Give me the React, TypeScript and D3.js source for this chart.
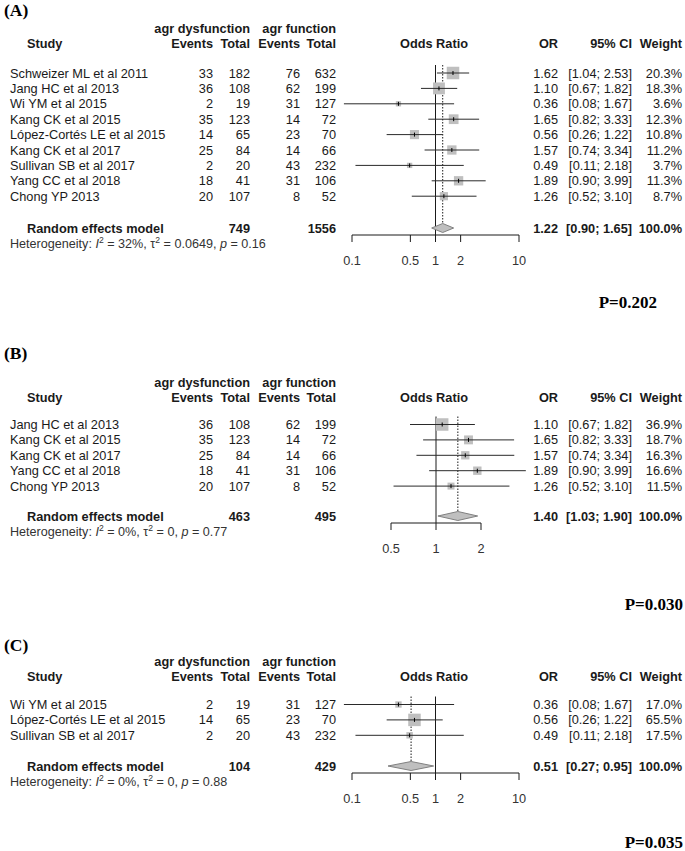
import * as d3 from "d3";

const SANS = "'Liberation Sans', Arial, sans-serif";
const SERIF = "'Liberation Serif', 'Times New Roman', serif";

// Panel A: all studies
const studiesA = [
  "Schweizer ML et al 2011",
  "Jang HC et al 2013",
  "Wi YM et al 2015",
  "Kang CK et al 2015",
  "López-Cortés LE et al 2015",
  "Kang CK et al 2017",
  "Sullivan SB et al 2017",
  "Yang CC et al 2018",
  "Chong YP 2013",
];
const dysEventsA = [33, 36, 2, 35, 14, 25, 2, 18, 20];
const dysTotalA = [182, 108, 19, 123, 65, 84, 20, 41, 107];
const funEventsA = [76, 62, 31, 14, 23, 14, 43, 31, 8];
const funTotalA = [632, 199, 127, 72, 70, 66, 232, 106, 52];
const orA = [1.62, 1.1, 0.36, 1.65, 0.56, 1.57, 0.49, 1.89, 1.26];
const lowerA = [1.04, 0.67, 0.08, 0.82, 0.26, 0.74, 0.11, 0.9, 0.52];
const upperA = [2.53, 1.82, 1.67, 3.33, 1.22, 3.34, 2.18, 3.99, 3.1];
const weightA = [20.3, 18.3, 3.6, 12.3, 10.8, 11.2, 3.7, 11.3, 8.7];
const pooledA = { or: 1.22, lo: 0.9, hi: 1.65, dysTotal: 749, funTotal: 1556 };
const hetA = { i2: "32%", tau2: "0.0649", p: "0.16" };
const ticksA = [0.1, 0.5, 1, 2, 10];

// Panel B
const studiesB = [
  "Jang HC et al 2013",
  "Kang CK et al 2015",
  "Kang CK et al 2017",
  "Yang CC et al 2018",
  "Chong YP 2013",
];
const dysEventsB = [36, 35, 25, 18, 20];
const dysTotalB = [108, 123, 84, 41, 107];
const funEventsB = [62, 14, 14, 31, 8];
const funTotalB = [199, 72, 66, 106, 52];
const orB = [1.1, 1.65, 1.57, 1.89, 1.26];
const lowerB = [0.67, 0.82, 0.74, 0.9, 0.52];
const upperB = [1.82, 3.33, 3.34, 3.99, 3.1];
const weightB = [36.9, 18.7, 16.3, 16.6, 11.5];
const pooledB = { or: 1.4, lo: 1.03, hi: 1.9, dysTotal: 463, funTotal: 495 };
const hetB = { i2: "0%", tau2: "0", p: "0.77" };
const ticksB = [0.5, 1, 2];

// Panel C
const studiesC = [
  "Wi YM et al 2015",
  "López-Cortés LE et al 2015",
  "Sullivan SB et al 2017",
];
const dysEventsC = [2, 14, 2];
const dysTotalC = [19, 65, 20];
const funEventsC = [31, 23, 43];
const funTotalC = [127, 70, 232];
const orC = [0.36, 0.56, 0.49];
const lowerC = [0.08, 0.26, 0.11];
const upperC = [1.67, 1.22, 2.18];
const weightC = [17.0, 65.5, 17.5];
const pooledC = { or: 0.51, lo: 0.27, hi: 0.95, dysTotal: 104, funTotal: 429 };
const hetC = { i2: "0%", tau2: "0", p: "0.88" };
const ticksC = [0.1, 0.5, 1, 2, 10];

const COL = {
  study: 10,
  studyHead: 27,
  evD: 213,
  totD: 250,
  evF: 300,
  totF: 336,
  orHead: 434,
  or: 558,
  ci: 632,
  wt: 682,
};

const ROW_H = 15.4;
const FS = 12.75;
const f2 = d3.format(".2f");
const f1 = d3.format(".1f");

type PanelProps = {
  letter: string;
  letterY: number;
  head1Y: number;
  head2Y: number;
  row0: number;
  axisY: number;
  pText: string;
  pY: number;
  pRight: number;
  domain: [number, number];
  range: [number, number];
  ticks: number[];
  studies: string[];
  dysEvents: number[];
  dysTotal: number[];
  funEvents: number[];
  funTotal: number[];
  or: number[];
  lower: number[];
  upper: number[];
  weight: number[];
  pooled: { or: number; lo: number; hi: number; dysTotal: number; funTotal: number };
  het: { i2: string; tau2: string; p: string };
};

const ForestPanel = (p: PanelProps) => {
  const x = d3.scaleLog().domain(p.domain).range(p.range);
  const wMax = d3.max(p.weight) || 1;
  const side = (w: number) => 12.5 * Math.sqrt(w / wMax);
  const rowY = (i: number) => p.row0 + i * ROW_H;
  const randY = p.axisY - 7;
  const hetY = randY + 16;
  const topY = p.row0 - 8;
  const base = (cy: number) => cy + 4.5;
  const ink = "#1a1a1a";

  const diamond = d3.line()([
    [x(p.pooled.lo), randY],
    [x(p.pooled.or), randY - 4.5],
    [x(p.pooled.hi), randY],
    [x(p.pooled.or), randY + 4.5],
  ]) + "Z";

  return (
    <g fontFamily={SANS} fontSize={FS} fill={ink}>
      <text x={4} y={p.letterY} fontFamily={SERIF} fontWeight="bold" fontSize={17.5} fill="#000">
        {p.letter}
      </text>

      {/* header */}
      <g fontWeight="bold">
        <text x={COL.totD} y={base(p.head1Y)} textAnchor="end">agr dysfunction</text>
        <text x={COL.totF} y={base(p.head1Y)} textAnchor="end">agr function</text>
        <text x={COL.studyHead} y={base(p.head2Y)}>Study</text>
        <text x={COL.evD} y={base(p.head2Y)} textAnchor="end">Events</text>
        <text x={COL.totD} y={base(p.head2Y)} textAnchor="end">Total</text>
        <text x={COL.evF} y={base(p.head2Y)} textAnchor="end">Events</text>
        <text x={COL.totF} y={base(p.head2Y)} textAnchor="end">Total</text>
        <text x={COL.orHead} y={base(p.head2Y)} textAnchor="middle">Odds Ratio</text>
        <text x={COL.or} y={base(p.head2Y)} textAnchor="end">OR</text>
        <text x={COL.ci} y={base(p.head2Y)} textAnchor="end">95% CI</text>
        <text x={COL.wt} y={base(p.head2Y)} textAnchor="end">Weight</text>
      </g>

      {/* reference lines */}
      <line x1={x(1)} x2={x(1)} y1={topY} y2={p.axisY} stroke={ink} strokeWidth={1} />
      <line
        x1={x(p.pooled.or)}
        x2={x(p.pooled.or)}
        y1={topY}
        y2={randY - 4.5}
        stroke={ink}
        strokeWidth={1}
        strokeDasharray="1.5,1.5"
      />

      {/* studies */}
      {p.studies.map((s, i) => {
        const y = rowY(i);
        const sz = side(p.weight[i]);
        return (
          <g key={s}>
            <text x={COL.study} y={base(y)}>{s}</text>
            <text x={COL.evD} y={base(y)} textAnchor="end">{p.dysEvents[i]}</text>
            <text x={COL.totD} y={base(y)} textAnchor="end">{p.dysTotal[i]}</text>
            <text x={COL.evF} y={base(y)} textAnchor="end">{p.funEvents[i]}</text>
            <text x={COL.totF} y={base(y)} textAnchor="end">{p.funTotal[i]}</text>
            <rect
              x={x(p.or[i]) - sz / 2}
              y={y - sz / 2}
              width={sz}
              height={sz}
              fill="#bfbfbf"
            />
            <line x1={x(p.lower[i])} x2={x(p.upper[i])} y1={y} y2={y} stroke="#2a2a2a" strokeWidth={1} />
            <line x1={x(p.or[i])} x2={x(p.or[i])} y1={y - 2} y2={y + 2} stroke="#000" strokeWidth={1} />
            <text x={COL.or} y={base(y)} textAnchor="end">{f2(p.or[i])}</text>
            <text x={COL.ci} y={base(y)} textAnchor="end">
              [{f2(p.lower[i])}; {f2(p.upper[i])}]
            </text>
            <text x={COL.wt} y={base(y)} textAnchor="end">{f1(p.weight[i])}%</text>
          </g>
        );
      })}

      {/* pooled */}
      <g fontWeight="bold">
        <text x={COL.studyHead} y={base(randY)}>Random effects model</text>
        <text x={COL.totD} y={base(randY)} textAnchor="end">{p.pooled.dysTotal}</text>
        <text x={COL.totF} y={base(randY)} textAnchor="end">{p.pooled.funTotal}</text>
        <text x={COL.or} y={base(randY)} textAnchor="end">{f2(p.pooled.or)}</text>
        <text x={COL.ci} y={base(randY)} textAnchor="end">
          [{f2(p.pooled.lo)}; {f2(p.pooled.hi)}]
        </text>
        <text x={COL.wt} y={base(randY)} textAnchor="end">100.0%</text>
      </g>
      <path d={diamond} fill="#bfbfbf" stroke="#808080" strokeWidth={1} />

      <text x={COL.study} y={hetY + 4} fontSize={12.6} fill="#333">
        Heterogeneity: <tspan fontStyle="italic">I</tspan>
        <tspan dy={-5} fontSize={8.6}>2</tspan>
        <tspan dy={5}> = {p.het.i2}, τ</tspan>
        <tspan dy={-5} fontSize={8.6}>2</tspan>
        <tspan dy={5}> = {p.het.tau2}, </tspan>
        <tspan fontStyle="italic">p</tspan> = {p.het.p}
      </text>

      {/* axis */}
      <line x1={p.range[0]} x2={p.range[1]} y1={p.axisY} y2={p.axisY} stroke={ink} strokeWidth={1} />
      {p.ticks.map((t) => (
        <g key={t}>
          <line x1={x(t)} x2={x(t)} y1={p.axisY} y2={p.axisY + 7} stroke={ink} strokeWidth={1} />
          <text x={x(t)} y={p.axisY + 25 + 4.5} textAnchor="middle" fill="#333">
            {t}
          </text>
        </g>
      ))}

      <text
        x={p.pRight}
        y={p.pY + 5.8}
        textAnchor="end"
        fontFamily={SERIF}
        fontWeight="bold"
        fontSize={17}
        fill="#000"
      >
        {p.pText}
      </text>
    </g>
  );
};

export default function App() {
  return (
    <div style={{ position: "absolute", left: 0, top: 0 }}>
      <svg width={685} height={851} style={{ display: "block", background: "#fff" }}>
        <ForestPanel
          letter="(A)"
          letterY={16}
          head1Y={28}
          head2Y={43}
          row0={73}
          axisY={235}
          pText="P=0.202"
          pY={302}
          pRight={657}
          domain={[0.1, 10]}
          range={[352, 519]}
          ticks={ticksA}
          studies={studiesA}
          dysEvents={dysEventsA}
          dysTotal={dysTotalA}
          funEvents={funEventsA}
          funTotal={funTotalA}
          or={orA}
          lower={lowerA}
          upper={upperA}
          weight={weightA}
          pooled={pooledA}
          het={hetA}
        />
        <ForestPanel
          letter="(B)"
          letterY={359}
          head1Y={382}
          head2Y={397}
          row0={424.5}
          axisY={523}
          pText="P=0.030"
          pY={604}
          pRight={683}
          domain={[0.5, 2]}
          range={[391, 481]}
          ticks={ticksB}
          studies={studiesB}
          dysEvents={dysEventsB}
          dysTotal={dysTotalB}
          funEvents={funEventsB}
          funTotal={funTotalB}
          or={orB}
          lower={lowerB}
          upper={upperB}
          weight={weightB}
          pooled={pooledB}
          het={hetB}
        />
        <ForestPanel
          letter="(C)"
          letterY={651}
          head1Y={661}
          head2Y={676}
          row0={704.5}
          axisY={773}
          pText="P=0.035"
          pY={842}
          pRight={683}
          domain={[0.1, 10]}
          range={[352, 519]}
          ticks={ticksC}
          studies={studiesC}
          dysEvents={dysEventsC}
          dysTotal={dysTotalC}
          funEvents={funEventsC}
          funTotal={funTotalC}
          or={orC}
          lower={lowerC}
          upper={upperC}
          weight={weightC}
          pooled={pooledC}
          het={hetC}
        />
      </svg>
    </div>
  );
}
